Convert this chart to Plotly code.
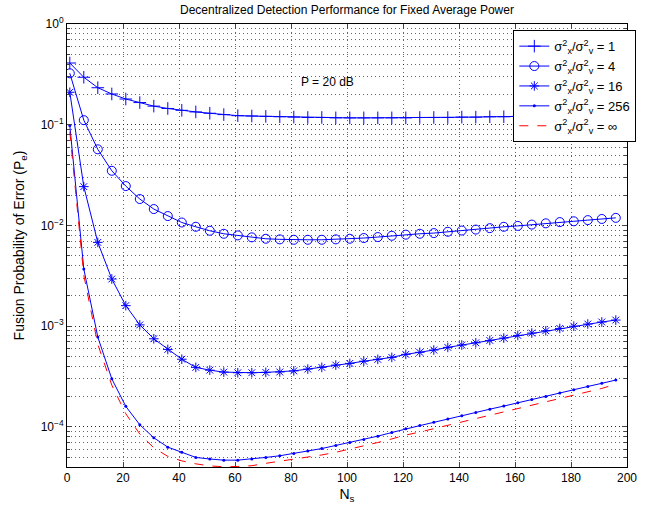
import numpy as np
import plotly.graph_objects as go

# Number of sensors
ns = list(range(1, 197, 5))

# sigma_x^2/sigma_v^2 = 1
pe_1 = [0.41, 0.296, 0.233, 0.202, 0.180, 0.166, 0.153, 0.145, 0.139, 0.134,
        0.130, 0.126, 0.123, 0.122, 0.121, 0.120, 0.119, 0.118, 0.118, 0.117,
        0.117, 0.117, 0.117, 0.117, 0.117, 0.118, 0.118, 0.118, 0.119, 0.119,
        0.120, 0.120, 0.121, 0.121, 0.122, 0.122, 0.123, 0.123, 0.124, 0.124]
# = 4
pe_4 = [0.324, 0.111, 0.057, 0.0349, 0.0246, 0.0183, 0.01455, 0.0124, 0.0107, 0.0097,
        0.00886, 0.00827, 0.00797, 0.00762, 0.00738, 0.00728, 0.00721, 0.00721, 0.00721, 0.00728,
        0.00738, 0.0075, 0.00767, 0.0079, 0.0081, 0.00827, 0.0084, 0.00866, 0.0089, 0.0091,
        0.0094, 0.0097, 0.0099, 0.0102, 0.0105, 0.0108, 0.0110, 0.0113, 0.0116, 0.0119]
# = 16
pe_16 = [0.21, 0.0243, 0.00679, 0.00294, 0.0016, 0.00103, 0.00075, 0.000588, 0.00047, 0.00039,
         0.000366, 0.00035, 0.000345, 0.000345, 0.000348, 0.000351, 0.00036, 0.000375, 0.00039, 0.000411,
         0.000427, 0.000449, 0.000468, 0.00049, 0.000525, 0.00055, 0.00058, 0.000616, 0.00065, 0.000684,
         0.000722, 0.000762, 0.00081, 0.000855, 0.000901, 0.00095, 0.001, 0.00105, 0.0011, 0.00115]
# = 256
pe_256 = [0.098, 0.0037, 0.00078, 0.0003, 0.00016, 0.000105, 7.8e-05, 6.3e-05, 5.6e-05, 4.98e-05,
          4.8e-05, 4.68e-05, 4.68e-05, 4.8e-05, 4.98e-05, 5.17e-05, 5.45e-05, 5.75e-05, 6.1e-05, 6.55e-05,
          7.0e-05, 7.5e-05, 8.1e-05, 8.8e-05, 9.6e-05, 0.000103, 0.000111, 0.00012, 0.000129, 0.000139,
          0.00015, 0.000161, 0.000174, 0.000187, 0.000201, 0.000217, 0.000234, 0.000252, 0.000271, 0.000292]
# = infinity
pe_inf = [0.085, 0.0032, 0.00066, 0.00026, 0.000135, 8.5e-05, 6.2e-05, 5.1e-05, 4.6e-05, 4.3e-05,
          4.1e-05, 4.02e-05, 4.05e-05, 4.12e-05, 4.35e-05, 4.55e-05, 4.78e-05, 5.0e-05, 5.27e-05, 5.6e-05,
          6.0e-05, 6.5e-05, 7.0e-05, 7.6e-05, 8.3e-05, 8.9e-05, 9.6e-05, 0.000104, 0.000112, 0.000121,
          0.000131, 0.000141, 0.000152, 0.000164, 0.000177, 0.000192, 0.000207, 0.000223, 0.000241, 0.000266]

x_ticks = [0, 20, 40, 60, 80, 100, 120, 140, 160, 180, 200]
y_ticks = [1e-4, 1e-3, 1e-2, 1e-1, 1]
y_ticktext = ["10<sup>−4</sup>", "10<sup>−3</sup>", "10<sup>−2</sup>", "10<sup>−1</sup>", "10<sup>0</sup>"]

BLUE = "#0000ff"
FONT = "Liberation Sans, Arial, sans-serif"
GRID_COLOR = "rgba(0,0,0,0.6)"
GRID_DASH = "1px,3px"

fig = go.Figure()
lab = "σ<sup>2</sup><sub>x</sub>/σ<sup>2</sup><sub>v</sub> = "
fig.add_trace(go.Scatter(x=ns, y=pe_1, mode="lines+markers", name=lab + "1",
                         line=dict(color=BLUE, width=1),
                         marker=dict(symbol="cross-thin-open", size=9, color=BLUE,
                                     line=dict(color=BLUE, width=1))))
fig.add_trace(go.Scatter(x=ns, y=pe_4, mode="lines+markers", name=lab + "4",
                         line=dict(color=BLUE, width=1),
                         marker=dict(symbol="circle-open", size=9, color=BLUE,
                                     line=dict(color=BLUE, width=1))))
fig.add_trace(go.Scatter(x=ns, y=pe_16, mode="lines+markers", name=lab + "16",
                         line=dict(color=BLUE, width=1),
                         marker=dict(symbol="asterisk-open", size=8, color=BLUE,
                                     line=dict(color=BLUE, width=1))))
fig.add_trace(go.Scatter(x=ns, y=pe_256, mode="lines+markers", name=lab + "256",
                         line=dict(color=BLUE, width=1),
                         marker=dict(symbol="circle", size=3, color=BLUE)))
fig.add_trace(go.Scatter(x=ns, y=pe_inf, mode="lines", name=lab + "∞",
                         line=dict(color="#ff0000", width=1, dash="dash")))

fig.add_annotation(x=93, y=np.log10(0.265), xref="x", yref="y", text="P = 20 dB",
                   showarrow=False, font=dict(size=12, color="black", family=FONT))

grid = dict(showgrid=True, gridcolor=GRID_COLOR, griddash=GRID_DASH, gridwidth=1)

fig.update_xaxes(range=[0, 200], tickvals=x_ticks, ticks="inside", ticklen=5,
                 showline=True, linecolor="black", linewidth=1, mirror="ticks",
                 zeroline=False, automargin=False,
                 title=dict(text="N<sub>s</sub>", standoff=4),
                 tickfont=dict(size=12), **grid)
fig.update_yaxes(type="log", range=[np.log10(4e-5), 0], tickvals=y_ticks, ticktext=y_ticktext,
                 ticks="inside", ticklen=5, showline=True, linecolor="black", linewidth=1,
                 mirror="ticks", zeroline=False, automargin=False,
                 minor=dict(dtick="D1", ticks="inside", ticklen=3, showgrid=True,
                            gridcolor=GRID_COLOR, griddash=GRID_DASH, gridwidth=1),
                 title=dict(text="Fusion Probability of Error (P<sub>e</sub>)", standoff=12),
                 tickfont=dict(size=12), **grid)

fig.update_layout(
    width=660, height=508,
    margin=dict(l=67, r=33, t=24, b=41),
    paper_bgcolor="white", plot_bgcolor="white",
    font=dict(family=FONT, size=12, color="black"),
    title=dict(text="Decentralized Detection Performance for Fixed Average Power",
               x=0.5, xref="paper", y=1 - 10 / 508, yref="container", yanchor="middle",
               font=dict(size=12)),
    legend=dict(x=0.797, y=0.986, xanchor="left", yanchor="top",
                bgcolor="white", bordercolor="black", borderwidth=1,
                font=dict(size=13), itemwidth=30, tracegroupgap=0),
    showlegend=True,
)

fig.write_html("out.html", config={"displayModeBar": False},
               post_script="document.body.style.margin='0px';document.body.style.overflow='hidden';")
